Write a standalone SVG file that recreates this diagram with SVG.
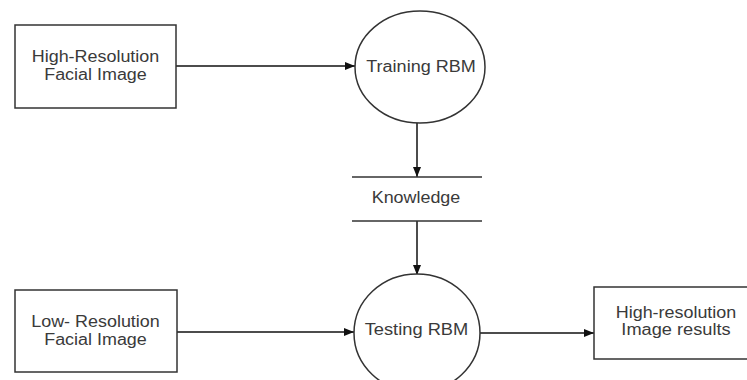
<svg xmlns="http://www.w3.org/2000/svg" width="747" height="380" viewBox="0 0 747 380">
<style>
.shape{fill:#fff;stroke:#333;stroke-width:1.5}
.line{fill:none;stroke:#111;stroke-width:1.5}
.lbl{font-family:"Liberation Sans",Arial,sans-serif;font-size:16px;fill:#3a3a3a;text-anchor:middle}
</style>
<defs>
<marker id="arr" markerWidth="10" markerHeight="8" refX="10" refY="4" orient="auto" markerUnits="userSpaceOnUse">
<path d="M0,0 L10,4 L0,8 Z" fill="#111"/>
</marker>
</defs>
<rect width="747" height="380" fill="#fff"/>
<g id="connectors">
<line class="line" x1="176" y1="66" x2="355" y2="66" marker-end="url(#arr)"/>
<line class="line" x1="417" y1="123" x2="417" y2="177" marker-end="url(#arr)"/>
<line class="line" x1="417" y1="221" x2="417" y2="275" marker-end="url(#arr)"/>
<line class="line" x1="177" y1="332" x2="354" y2="332" marker-end="url(#arr)"/>
<line class="line" x1="480" y1="333" x2="594" y2="333" marker-end="url(#arr)"/>
</g>
<g id="hr-input">
<rect class="shape" x="15" y="25" width="161" height="83"/>
<text class="lbl" x="95.5" y="62" textLength="127.5" lengthAdjust="spacingAndGlyphs">High-Resolution</text>
<text class="lbl" x="95.5" y="80" textLength="102.6" lengthAdjust="spacingAndGlyphs">Facial Image</text>
</g>
<g id="training">
<ellipse class="shape" cx="420" cy="67" rx="65" ry="56"/>
<text class="lbl" x="421" y="72" textLength="109.5" lengthAdjust="spacingAndGlyphs">Training RBM</text>
</g>
<g id="knowledge">
<line class="shape" x1="352" y1="177" x2="482" y2="177"/>
<line class="shape" x1="352" y1="221" x2="482" y2="221"/>
<text class="lbl" x="416" y="203" textLength="88.6" lengthAdjust="spacingAndGlyphs">Knowledge</text>
</g>
<g id="lr-input">
<rect class="shape" x="15" y="290" width="162" height="82"/>
<text class="lbl" x="95.5" y="327" textLength="128.5" lengthAdjust="spacingAndGlyphs">Low- Resolution</text>
<text class="lbl" x="95.5" y="345" textLength="102.6" lengthAdjust="spacingAndGlyphs">Facial Image</text>
</g>
<g id="testing">
<ellipse class="shape" cx="417" cy="333" rx="63" ry="59"/>
<text class="lbl" x="416.5" y="335" textLength="103.6" lengthAdjust="spacingAndGlyphs">Testing RBM</text>
</g>
<g id="output">
<rect class="shape" x="594" y="287" width="162" height="72"/>
<text class="lbl" x="676" y="318" textLength="120.5" lengthAdjust="spacingAndGlyphs">High-resolution</text>
<text class="lbl" x="676" y="335" textLength="109.3" lengthAdjust="spacingAndGlyphs">Image results</text>
</g>
</svg>
